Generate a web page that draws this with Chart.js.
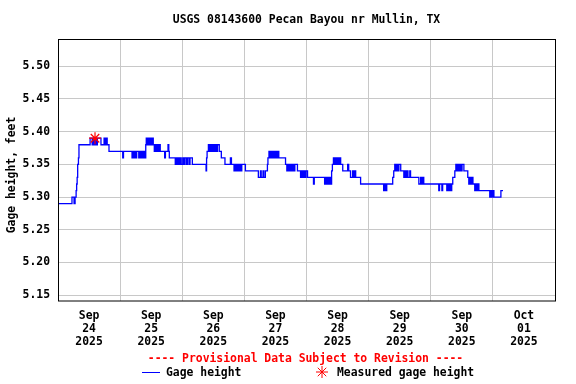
<!DOCTYPE html>
<html>
<head>
<meta charset="utf-8">
<script src="https://cdn.jsdelivr.net/npm/chart.js@4/dist/chart.umd.min.js"></script>
<style>
html,body{margin:0;padding:0;background:#fff;}
#wrap{width:576px;height:384px;}
</style>
</head>
<body>
<div id="wrap"><canvas id="c" width="576" height="384"></canvas></div>
<script>
// Hours since 2025-09-24 00:00 at which the gage reading changed, and the new reading (feet)
const gageHours = [0,5.4,6.2,6.6,7.0,7.2,7.4,7.6,7.9,8.1,12.4,13.2,13.5,13.8,14.0,14.3,14.6,14.9,15.2,16.6,17.8,18.2,18.5,19.0,19.7,
25.0,25.3,28.6,29.0,29.3,29.7,30.0,30.4,31.2,31.6,32.0,32.4,32.8,33.2,33.6,33.9,34.1,34.5,34.8,35.2,35.5,36.0,36.3,36.8,37.2,37.5,38.0,38.4,38.8,39.1,39.5,
41.2,41.5,42.5,42.8,43.0,45.3,45.7,46.0,46.5,46.8,47.3,47.6,48.2,48.6,49.0,49.6,50.0,50.6,51.0,51.9,
57.2,57.4,57.6,58.1,58.6,59.0,59.5,59.8,60.3,60.7,61.2,61.6,62.3,63.1,64.5,66.6,67.0,68.0,68.4,68.8,69.2,69.7,70.1,70.5,71.0,72.4,
77.4,78.2,78.5,79.2,79.5,80.1,80.9,81.1,81.5,82.0,82.4,82.8,83.2,83.6,84.0,84.5,85.0,85.3,87.9,88.4,88.8,89.3,89.7,90.2,90.6,91.1,91.5,92.5,
93.7,94.1,94.5,95.0,95.4,95.8,96.4,98.7,99.0,103.0,103.4,103.8,104.3,104.7,105.2,105.5,105.7,106.0,106.4,106.8,107.2,107.6,108.0,108.4,108.8,109.2,
110.0,111.9,112.3,113.0,113.8,114.2,114.6,115.0,116.9,125.8,126.2,126.5,127.0,129.3,129.7,130.1,130.5,130.9,131.3,131.7,132.4,
133.6,134.0,134.4,134.8,135.2,135.9,136.2,139.4,140.1,140.4,140.9,141.3,147.1,147.4,148.3,148.6,150.2,150.5,151.0,151.4,151.8,152.1,
152.5,153.3,153.7,154.1,154.5,154.9,155.3,155.7,156.1,156.8,158.3,158.7,159.1,159.5,159.9,160.3,161.0,161.4,161.8,162.2,162.6,
166.8,167.2,167.6,168.0,168.4,171.1,171.9];
const gageFeet = [5.29,5.30,5.29,5.30,5.31,5.32,5.33,5.35,5.36,5.38,5.39,5.38,5.39,5.38,5.39,5.38,5.39,5.38,5.39,5.38,5.39,5.38,5.39,5.38,5.37,
5.36,5.37,5.36,5.37,5.36,5.37,5.36,5.37,5.36,5.37,5.36,5.37,5.36,5.37,5.36,5.38,5.39,5.38,5.39,5.38,5.39,5.38,5.39,5.38,5.37,5.38,5.37,5.38,5.37,5.38,5.37,
5.36,5.37,5.38,5.37,5.36,5.35,5.36,5.35,5.36,5.35,5.36,5.35,5.36,5.35,5.36,5.35,5.36,5.35,5.36,5.35,
5.34,5.36,5.37,5.38,5.37,5.38,5.37,5.38,5.37,5.38,5.37,5.38,5.37,5.36,5.35,5.36,5.35,5.34,5.35,5.34,5.35,5.34,5.35,5.34,5.35,5.34,
5.33,5.34,5.33,5.34,5.33,5.34,5.35,5.36,5.37,5.36,5.37,5.36,5.37,5.36,5.37,5.36,5.37,5.36,5.35,5.34,5.35,5.34,5.35,5.34,5.35,5.34,5.35,5.34,
5.33,5.34,5.33,5.34,5.33,5.34,5.33,5.32,5.33,5.32,5.33,5.32,5.33,5.32,5.33,5.32,5.34,5.35,5.36,5.35,5.36,5.35,5.36,5.35,5.36,5.35,
5.34,5.35,5.34,5.33,5.34,5.33,5.34,5.33,5.32,5.31,5.32,5.31,5.32,5.33,5.34,5.35,5.34,5.35,5.34,5.35,5.34,
5.33,5.34,5.33,5.34,5.33,5.34,5.33,5.32,5.33,5.32,5.33,5.32,5.31,5.32,5.31,5.32,5.31,5.32,5.31,5.32,5.31,5.32,
5.33,5.34,5.35,5.34,5.35,5.34,5.35,5.34,5.35,5.34,5.33,5.32,5.33,5.32,5.33,5.32,5.31,5.32,5.31,5.32,5.31,
5.30,5.31,5.30,5.31,5.30,5.31,5.31];
const measuredHours = [14.3];
const measuredFeet = [5.39];
const yTicks = [5.15,5.20,5.25,5.30,5.35,5.40,5.45,5.50];
const xTickHours = [0,12,24,36,48,60,72,84,96,108,120,132,144,156,168,180,192];
const dayLabels = [['Sep','24','2025'],['Sep','25','2025'],['Sep','26','2025'],['Sep','27','2025'],['Sep','28','2025'],['Sep','29','2025'],['Sep','30','2025'],['Oct','01','2025']];
const titleText = 'USGS 08143600 Pecan Bayou nr Mullin, TX';
const yTitle = 'Gage height, feet';
const provisionalText = '---- Provisional Data Subject to Revision ----';
const legendLine = 'Gage height';
const legendStar = 'Measured gage height';

const FONT = "'DejaVu Sans Mono', monospace";
const FS = 11.4;
const fontStr = 'bold ' + FS + 'px ' + FONT;

const decor = {
  id: 'decor',
  afterDraw(chart) {
    const ctx = chart.ctx, a = chart.chartArea;
    ctx.save();
    ctx.strokeStyle = '#000';
    ctx.lineWidth = 1;
    ctx.strokeRect(Math.round(a.left) + 0.5, Math.round(a.top) - 0.5, Math.round(a.right - a.left), Math.round(a.bottom - a.top) + 0.5);
    ctx.font = fontStr;
    ctx.textBaseline = 'middle';
    ctx.textAlign = 'center';
    ctx.fillStyle = '#000';
    ctx.fillText(titleText, (a.left + a.right) / 2, 20);
    ctx.save();
    ctx.translate(12, 175);
    ctx.rotate(-Math.PI / 2);
    ctx.fillText(yTitle, 0, 0);
    ctx.restore();
    ctx.fillStyle = '#ff0000';
    ctx.fillText(provisionalText, 305.5, 359);
    ctx.textAlign = 'left';
    ctx.fillStyle = '#000';
    ctx.fillText(legendLine, 166, 373);
    ctx.fillText(legendStar, 337, 373);
    ctx.strokeStyle = '#0000ff';
    ctx.beginPath(); ctx.moveTo(142, 372.5); ctx.lineTo(160, 372.5); ctx.stroke();
    ctx.strokeStyle = '#ff0000';
    const cx = 322, cy = 372, r = 6;
    ctx.beginPath();
    for (let k = 0; k < 4; k++) {
      const ang = k * Math.PI / 4;
      ctx.moveTo(cx - r * Math.cos(ang), cy - r * Math.sin(ang));
      ctx.lineTo(cx + r * Math.cos(ang), cy + r * Math.sin(ang));
    }
    ctx.stroke();
    ctx.restore();
  }
};

new Chart(document.getElementById('c'), {
  type: 'line',
  data: {
    datasets: [
      {
        label: 'Gage height',
        data: gageHours.map((h, i) => ({x: h, y: gageFeet[i]})),
        borderColor: '#0000ff',
        borderWidth: 1.3,
        stepped: true,
        pointRadius: 0,
        fill: false,
        order: 2
      },
      {
        type: 'scatter',
        label: 'Measured gage height',
        data: measuredHours.map((h, i) => ({x: h, y: measuredFeet[i]})),
        pointStyle: 'star',
        pointRadius: 6,
        borderColor: '#ff0000',
        backgroundColor: '#ff0000',
        borderWidth: 1.2,
        order: 1
      }
    ]
  },
  options: {
    responsive: false,
    animation: false,
    devicePixelRatio: 1,
    layout: {padding: {top: 40, right: 21, left: 0, bottom: 0}},
    plugins: {legend: {display: false}, title: {display: false}, tooltip: {enabled: false}},
    scales: {
      x: {
        type: 'linear',
        min: 0, max: 192,
        afterBuildTicks: s => { s.ticks = xTickHours.map(v => ({value: v})); },
        afterFit: s => { s.height = 83; },
        border: {display: false},
        grid: {
          drawTicks: false,
          color: c => (c.tick && c.tick.value % 24 === 0) ? '#c8c8c8' : 'rgba(0,0,0,0)',
          lineWidth: 1
        },
        ticks: {
          autoSkip: false, maxRotation: 0, padding: 8,
          color: '#000',
          font: {family: FONT, size: FS, weight: 'bold', lineHeight: 1.15},
          callback: v => (v % 24 === 12) ? dayLabels[(v - 12) / 24] : ''
        }
      },
      y: {
        min: 5.1412, max: 5.5401,
        afterBuildTicks: s => { s.ticks = yTicks.map(v => ({value: v})); },
        afterFit: s => { s.width = 58; },
        border: {display: false},
        grid: {drawTicks: false, color: '#c8c8c8', lineWidth: 1},
        ticks: {
          padding: 8, color: '#000',
          font: {family: FONT, size: FS, weight: 'bold'},
          callback: v => v.toFixed(2)
        }
      }
    }
  },
  plugins: [decor]
});
</script>
</body>
</html>
